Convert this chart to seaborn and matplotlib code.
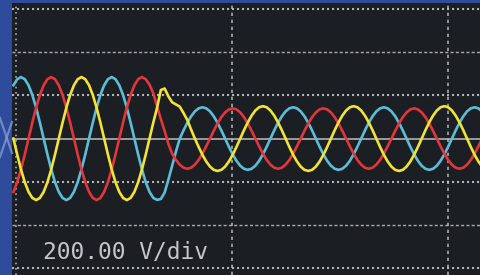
import numpy as np
import pandas as pd
import matplotlib
matplotlib.use('Agg')
import matplotlib.pyplot as plt
from matplotlib.lines import Line2D
import seaborn as sns

# Данные осциллограммы (три фазы, В), отсчёты через 1/24 периода
START_MS = -0.6
STEP_MS = 0.875

phase_cyan = [
    247, 275, 285, 275, 247, 202, 143, 74, 0, -74, -143, -202,
    -247, -275, -285, -275, -247, -202, -143, -74, 0, 74, 143, 202,
    247, 275, 285, 275, 247, 202, 143, 74, 0, -74, -143, -202,
    -247, -275, -284, -280, -250, -190, -125, -60,
    0, 38, 73, 103, 126, 140, 145, 140, 126, 103, 73, 38,
    0, -38, -73, -103, -126, -140, -145, -140, -126, -103, -73, -38,
    0, 38, 73, 103, 126, 140, 145, 140, 126, 103, 73, 38,
    0, -38, -73, -103, -126, -140, -145, -140, -126, -103, -73, -38,
    0, 38, 73, 103, 126, 140, 145, 140, 126, 103, 73, 38,
    0, -38, -73, -103, -126, -140, -145, -140, -126, -103, -73, -38,
    0, 38, 73, 103, 126, 140, 145, 140, 126]
phase_red = [
    -247, -202, -143, -74, 0, 74, 143, 202, 247, 275, 285, 275,
    247, 202, 143, 74, 0, -74, -143, -202, -247, -275, -285, -275,
    -247, -202, -143, -74, 0, 74, 143, 202, 247, 275, 285, 275,
    250, 210, 150, 90, 35, -25, -70,
    -99, -121, -135, -140, -135, -121, -99, -70, -36, 0, 36, 70,
    99, 121, 135, 140, 135, 121, 99, 70, 36, 0, -36, -70,
    -99, -121, -135, -140, -135, -121, -99, -70, -36, 0, 36, 70,
    99, 121, 135, 140, 135, 121, 99, 70, 36, 0, -36, -70,
    -99, -121, -135, -140, -135, -121, -99, -70, -36, 0, 36, 70,
    99, 121, 135, 140, 135, 121, 99, 70, 36, 0, -36, -70,
    -99, -121, -135, -140, -135, -121, -99, -70, -36, 0]
phase_yellow = [
    0, -74, -143, -202, -247, -275, -285, -275, -247, -202, -143, -74,
    0, 74, 143, 202, 247, 275, 285, 275, 247, 202, 143, 74,
    0, -74, -143, -202, -247, -275, -285, -275, -247, -202, -143, -74,
    0, 74, 143, 225, 232, 195, 168, 158, 148, 118, 86, 42,
    0, -39, -75, -106, -130, -145, -150, -145, -130, -106, -75, -39,
    0, 39, 75, 106, 130, 145, 150, 145, 130, 106, 75, 39,
    0, -39, -75, -106, -130, -145, -150, -145, -130, -106, -75, -39,
    0, 39, 75, 106, 130, 145, 150, 145, 130, 106, 75, 39,
    0, -39, -75, -106, -130, -145, -150, -145, -130, -106, -75, -39,
    0, 39, 75, 106, 130, 145, 150, 145, 130, 106, 75, 39,
    0, -39, -75, -106, -130]

grid_volts = [-600, -400, -200, 200, 400, 600]
grid_ms = [0, 50, 100]
scale_label = '200.00 V/div'

PALETTE = {'L1': '#5cbdd8', 'L2': '#e2363b', 'L3': '#f1e434'}
BLUE_BG, SCREEN_BG, GRID_CLR = '#2e4b9c', '#1b1e23', '#c4c4c4'

t = START_MS + STEP_MS * np.arange(len(phase_cyan))
df = pd.concat([
    pd.DataFrame({'t': t, 'v': phase_cyan, 'phase': 'L1'}),
    pd.DataFrame({'t': t, 'v': phase_red, 'phase': 'L2'}),
    pd.DataFrame({'t': t, 'v': phase_yellow, 'phase': 'L3'}),
])

fig = plt.figure(figsize=(4.8, 2.75), dpi=100)
fig.patch.set_facecolor(BLUE_BG)
ax = fig.add_axes([12/480, 0, 468/480, 272/275])
ax.set_facecolor(SCREEN_BG)

# светлый крест на синем фоне слева
for xs, ys in [((0, 12), (157, 122)), ((0, 12), (118, 153))]:
    fig.add_artist(Line2D([x/480 for x in xs], [1 - y/275 for y in ys],
                          transform=fig.transFigure, color='#8fa3dc',
                          lw=1.6, alpha=0.7))

# сетка экрана
for v in grid_volts:
    if abs(v) == 400:
        ax.axhline(v, color=GRID_CLR, lw=1.0, ls=(0, (2.2, 1.6)), alpha=0.85, zorder=1)
    else:
        ax.axhline(v, color=GRID_CLR, lw=1.5, ls=(0, (1, 1.4)), alpha=0.9, zorder=1)
ax.axhline(0, color='#9c9c9c', lw=1.4, zorder=1)
for i, tm in enumerate(grid_ms):
    if i == 0:
        ax.axvline(tm, color=GRID_CLR, lw=1.2, ls=(0, (1, 2.2)), alpha=0.85, zorder=1)
    else:
        ax.axvline(tm, color=GRID_CLR, lw=1.2, ls=(0, (2, 2.2)), alpha=0.85, zorder=1)

sns.lineplot(data=df, x='t', y='v', hue='phase', palette=PALETTE,
             hue_order=['L1', 'L2', 'L3'], estimator=None, sort=False,
             lw=1.9, legend=False, ax=ax, zorder=3)

ax.text(0.066, 0.058, scale_label, transform=ax.transAxes, ha='left',
        va='baseline', fontsize=16.5, family='DejaVu Sans Mono',
        color='#c6c6c6')

ax.set_xlim(-0.93, 107.4)
ax.set_ylim(-632, 628)
ax.set_xticks([]); ax.set_yticks([])
ax.set_xlabel(''); ax.set_ylabel('')
for s in ax.spines.values():
    s.set_visible(False)

plt.savefig('out.png', dpi=100, facecolor=BLUE_BG)
plt.close()
